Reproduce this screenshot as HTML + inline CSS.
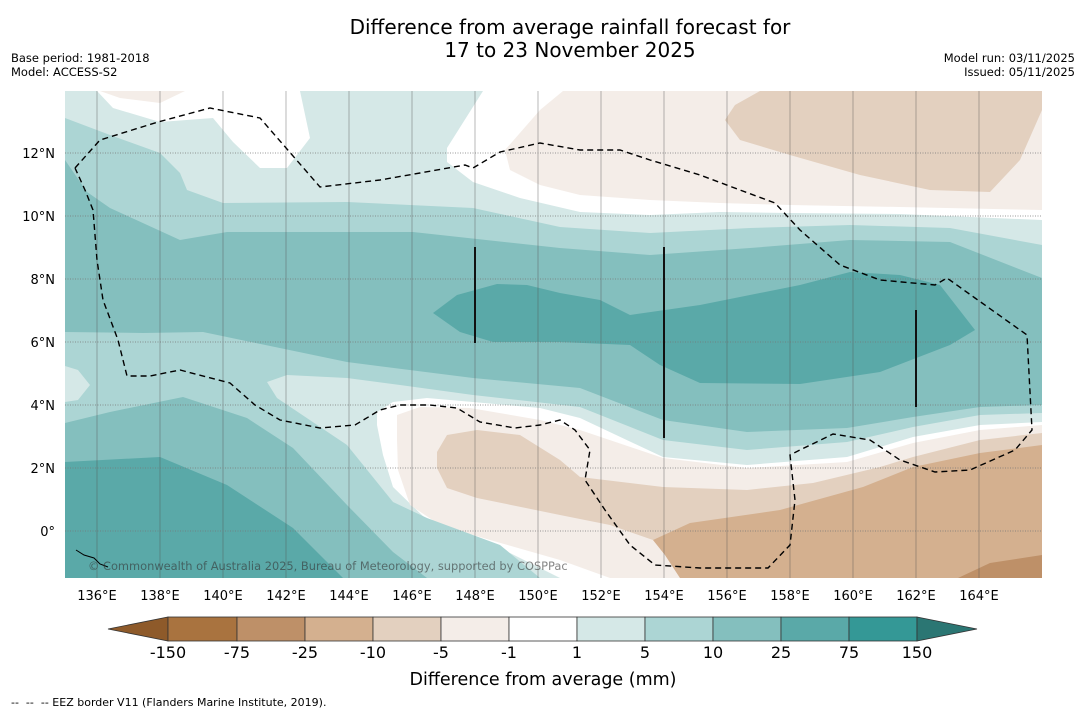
<!DOCTYPE html>
<html><head><meta charset="utf-8"><style>
body{margin:0;background:#fff;width:1085px;height:713px;overflow:hidden;font-family:"Liberation Sans",sans-serif}
svg text{font-family:"DejaVu Sans","Liberation Sans",sans-serif}
</style></head><body>
<svg width="1085" height="713">
<text x="570" y="34" font-size="20" text-anchor="middle">Difference from average rainfall forecast for</text>
<text x="570" y="57" font-size="20" text-anchor="middle">17 to 23 November 2025</text>
<text x="11" y="62" font-size="11.5">Base period: 1981-2018</text>
<text x="11" y="76" font-size="11.5">Model: ACCESS-S2</text>
<text x="1075" y="62" font-size="11.5" text-anchor="end">Model run: 03/11/2025</text>
<text x="1075" y="76" font-size="11.5" text-anchor="end">Issued: 05/11/2025</text>
<defs><clipPath id="mc"><rect x="65" y="91" width="977" height="487"/></clipPath></defs>
<g clip-path="url(#mc)">
<rect x="65" y="91" width="977" height="487" fill="#d5e8e7"/>
<polygon fill="#fff" points="97,91 113,108 160,122 213,118 233,142 260,168 287,168 310,138 300,91"/>
<polygon fill="#f4ede8" points="100,91 120,98 160,103 185,91"/>
<polygon fill="#fff" points="483,91 447,148 447,162 473,182 520,198 580,212 650,215 720,212 790,213 900,214 1042,220 1042,91"/>
<polygon fill="#f4ede8" points="563,91 540,110 505,150 510,170 540,185 580,195 650,200 720,203 790,205 900,207 1042,210 1042,91"/>
<polygon fill="#e3d0bf" points="760,91 1042,91 1042,110 1020,160 990,192 930,190 860,175 790,155 740,140 725,120 735,105"/>
<polygon fill="#fff" points="377,412 393,402 427,398 473,402 540,408 580,418 663,457 747,465 847,457 913,437 980,425 1042,422 1042,578 560,578 500,548 427,520 393,487 383,455 377,425"/>
<polygon fill="#f4ede8" points="397,415 420,407 470,408 540,420 580,430 663,458 747,468 847,462 913,443 980,430 1042,425 1042,578 610,578 560,560 490,540 440,525 410,505 398,470 397,440"/>
<polygon fill="#e3d0bf" points="437,452 447,435 477,430 520,435 560,460 580,477 663,487 747,490 813,483 880,467 913,457 980,440 1042,433 1042,578 680,578 665,555 653,540 610,525 560,515 477,498 447,488 437,468"/>
<polygon fill="#d4b08f" points="653,540 690,523 780,510 863,487 913,467 980,453 1042,445 1042,578 680,578 665,555"/>
<polygon fill="#be9068" points="958,578 990,563 1042,555 1042,578"/>
<polygon fill="#acd5d4" points="65,118 110,135 160,153 180,173 187,190 223,203 347,202 473,208 560,227 650,233 750,228 850,225 950,228 1042,245 1042,413 980,415 913,427 847,442 747,450 663,440 580,407 473,395 400,385 347,378 287,375 267,382 277,398 347,445 393,502 427,518 500,545 540,578 65,578"/>
<polygon fill="#d5e8e7" points="65,366 78,370 90,385 78,400 65,402"/>
<polygon fill="#84bfbe" points="65,160 87,192 110,208 180,240 227,232 347,232 413,232 560,248 650,255 750,248 850,240 950,242 1042,278 1042,405 980,407 913,417 847,428 747,432 663,420 580,388 473,378 347,362 203,332 143,333 65,332"/>
<polygon fill="#84bfbe" points="65,423 110,412 183,397 247,418 293,448 347,505 393,552 427,578 65,578"/>
<polygon fill="#5aa9a8" points="433,313 457,295 497,284 527,285 560,293 600,300 630,315 700,305 800,285 850,272 900,275 940,285 975,330 950,345 880,372 800,384 700,383 660,365 630,345 560,342 493,342 460,332"/>
<polygon fill="#5aa9a8" points="65,462 160,457 227,485 293,528 343,578 65,578"/>
<g stroke="#555" stroke-width="0.7" stroke-opacity="0.6">
<line x1="97" y1="91" x2="97" y2="578"/><line x1="160" y1="91" x2="160" y2="578"/><line x1="223" y1="91" x2="223" y2="578"/><line x1="286" y1="91" x2="286" y2="578"/><line x1="349" y1="91" x2="349" y2="578"/><line x1="412" y1="91" x2="412" y2="578"/><line x1="475" y1="91" x2="475" y2="578"/><line x1="538" y1="91" x2="538" y2="578"/><line x1="601" y1="91" x2="601" y2="578"/><line x1="664" y1="91" x2="664" y2="578"/><line x1="727" y1="91" x2="727" y2="578"/><line x1="790" y1="91" x2="790" y2="578"/><line x1="853" y1="91" x2="853" y2="578"/><line x1="916" y1="91" x2="916" y2="578"/><line x1="979" y1="91" x2="979" y2="578"/>
</g>
<g stroke="#777" stroke-width="0.8" stroke-dasharray="1,1.5">
<line x1="65" y1="153" x2="1042" y2="153"/><line x1="65" y1="216" x2="1042" y2="216"/><line x1="65" y1="279" x2="1042" y2="279"/><line x1="65" y1="342" x2="1042" y2="342"/><line x1="65" y1="405" x2="1042" y2="405"/><line x1="65" y1="468" x2="1042" y2="468"/><line x1="65" y1="531" x2="1042" y2="531"/>
</g>
<polyline fill="none" stroke="#000" stroke-width="1.4" stroke-dasharray="6,4" points="75,168 100,140 158,122 210,108 260,118 320,187 380,180 420,173 465,165 473,168 500,152 540,143 580,150 620,150 650,160 700,175 740,190 775,203 800,230 840,265 880,280 935,285 947,278 975,298 1027,335 1032,430 1015,450 970,470 935,472 900,460 870,440 833,434 800,450 790,455 795,500 790,545 768,568 700,568 655,565 630,545 605,510 585,480 590,450 575,430 560,420 540,425 515,428 480,422 457,408 430,405 400,405 380,410 355,425 320,428 280,420 255,405 230,383 180,370 150,376 127,376 118,340 103,300 97,260 93,210 85,190 75,168"/>
<g stroke="#111" stroke-width="2">
<line x1="475" y1="247" x2="475" y2="343"/><line x1="664" y1="247" x2="664" y2="438"/><line x1="916" y1="310" x2="916" y2="407"/>
</g>
<path d="M76,550 l8,5 l10,3 l6,6 l8,3" fill="none" stroke="#000" stroke-width="1"/>
<text x="88" y="570" font-size="11.4" fill="#333" fill-opacity="0.6">© Commonwealth of Australia 2025, Bureau of Meteorology, supported by COSPPac</text>
</g>
<g font-size="13" text-anchor="middle">
<text x="97" y="600">136°E</text><text x="160" y="600">138°E</text><text x="223" y="600">140°E</text><text x="286" y="600">142°E</text><text x="349" y="600">144°E</text><text x="412" y="600">146°E</text><text x="475" y="600">148°E</text><text x="538" y="600">150°E</text><text x="601" y="600">152°E</text><text x="664" y="600">154°E</text><text x="727" y="600">156°E</text><text x="790" y="600">158°E</text><text x="853" y="600">160°E</text><text x="916" y="600">162°E</text><text x="979" y="600">164°E</text>
</g>
<g font-size="13" text-anchor="end">
<text x="55" y="158">12°N</text><text x="55" y="221">10°N</text><text x="55" y="284">8°N</text><text x="55" y="347">6°N</text><text x="55" y="410">4°N</text><text x="55" y="473">2°N</text><text x="55" y="536">0°</text>
</g>
<g stroke="#333" stroke-width="0.8">
<polygon points="108,629 168,617 168,641" fill="#8e5a2a"/>
<rect x="168" y="617" width="69" height="24" fill="#a9733f"/>
<rect x="237" y="617" width="68" height="24" fill="#be9068"/>
<rect x="305" y="617" width="68" height="24" fill="#d4b08f"/>
<rect x="373" y="617" width="68" height="24" fill="#e3d0bf"/>
<rect x="441" y="617" width="68" height="24" fill="#f4ede8"/>
<rect x="509" y="617" width="68" height="24" fill="#ffffff"/>
<rect x="577" y="617" width="68" height="24" fill="#d5e8e7"/>
<rect x="645" y="617" width="68" height="24" fill="#acd5d4"/>
<rect x="713" y="617" width="68" height="24" fill="#84bfbe"/>
<rect x="781" y="617" width="68" height="24" fill="#5aa9a8"/>
<rect x="849" y="617" width="68" height="24" fill="#349896"/>
<polygon points="917,617 977,629 917,641" fill="#2b7673"/>
</g>
<g font-size="16" text-anchor="middle">
<text x="168" y="658">-150</text><text x="237" y="658">-75</text><text x="305" y="658">-25</text><text x="373" y="658">-10</text><text x="441" y="658">-5</text><text x="509" y="658">-1</text><text x="577" y="658">1</text><text x="645" y="658">5</text><text x="713" y="658">10</text><text x="781" y="658">25</text><text x="849" y="658">75</text><text x="917" y="658">150</text>
</g>
<text x="543" y="685" font-size="17.5" text-anchor="middle">Difference from average (mm)</text>
<text x="11" y="706" font-size="11" xml:space="preserve">--  --  -- EEZ border V11 (Flanders Marine Institute, 2019).</text>
</svg>
</body></html>
